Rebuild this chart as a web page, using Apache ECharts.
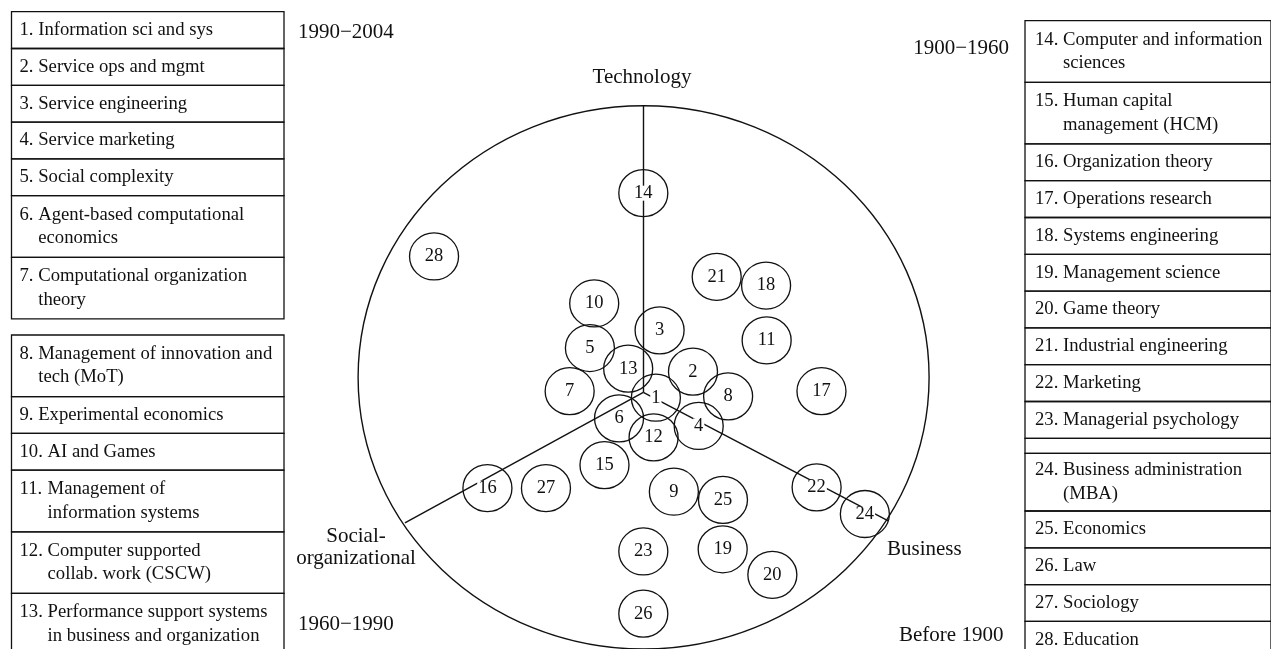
<!DOCTYPE html>
<html>
<head>
<meta charset="utf-8">
<script src="https://cdn.jsdelivr.net/npm/echarts@6/dist/echarts.min.js"></script>
<style>
html,body{margin:0;padding:0;background:#fff;}
#chart{width:1271px;height:649px;}
</style>
</head>
<body>
<div id="chart"></div>
<script>
// ---------------- DATA ----------------
// Topic numbers and their positions in the diagram (frame ellipse = radius 100)
const topicIds = [1,2,3,4,5,6,7,8,9,10,11,12,13,14,15,16,17,18,19,20,21,22,23,24,25,26,27,28];
const topicX   = [4.3,17.3,5.6,19.3,-18.8,-8.6,-25.9,29.6,10.6,-17.3,43.1,3.5,-5.4,-0.1,-13.7,-54.7,62.3,42.9,27.7,45.1,25.6,60.6,-0.1,77.5,27.8,-0.1,-34.2,-73.4];
const topicY   = [-7.5,2.1,17.3,-17.9,10.8,-15.1,-5.1,-7.0,-42.1,27.2,13.6,-22.1,3.2,67.8,-32.3,-40.8,-5.1,33.8,-63.3,-72.7,37.0,-40.5,-64.1,-50.3,-45.1,-87.0,-40.8,44.5];

// Three axes: hub and spoke end points (Technology, Social-organizational, Business)
const hubPoint   = [-0.1, -5.5];
const spokeEnds  = [[0, 100], [-83.6, -53.6], [85.7, -52.8]];
const frameRadius = 100;

// Axis and era labels
const axisNames = ["Technology", "Social-\norganizational", "Business"];
const eraNames  = ["1990\u22122004", "1900\u22121960", "1960\u22121990", "Before 1900"];

// Legend tables
const leftTableTop = [
  "1. Information sci and sys",
  "2. Service ops and mgmt",
  "3. Service engineering",
  "4. Service marketing",
  "5. Social complexity",
  "6. Agent-based computational\neconomics",
  "7. Computational organization\ntheory"
];
const leftTableBottom = [
  "8. Management of innovation and\ntech (MoT)",
  "9. Experimental economics",
  "10. AI and Games",
  "11. Management of\ninformation systems",
  "12. Computer supported\ncollab. work (CSCW)",
  "13. Performance support systems\nin business and organization"
];
const rightTable = [
  "14. Computer and information\nsciences",
  "15. Human capital\nmanagement (HCM)",
  "16. Organization theory",
  "17. Operations research",
  "18. Systems engineering",
  "19. Management science",
  "20. Game theory",
  "21. Industrial engineering",
  "22. Marketing",
  "23. Managerial psychology",
  "",
  "24. Business administration\n(MBA)",
  "25. Economics",
  "26. Law",
  "27. Sociology",
  "28. Education"
];

// ---------------- LAYOUT ----------------
const FONT = '"Liberation Serif","Times New Roman",Times,serif';
const TABLE_FS = 18.7;
const LABEL_FS = 21;
const INK = '#111';

function rowHeight(item, tableKey) {
  if (item === "") return 15;
  const lines = item.split("\n").length;
  if (lines === 1) return 36.8;
  if (tableKey === 'right' && item.startsWith("24.")) return 57.7;
  return 61.6;
}

function buildTable(items, x, y, w, textPad, tableKey) {
  const els = [];
  let cy = y;
  items.forEach(item => {
    const h = rowHeight(item, tableKey);
    els.push({
      type: 'rect', silent: true,
      shape: {x: x, y: cy, width: w, height: h},
      style: {fill: 'none', stroke: INK, lineWidth: 1.3}
    });
    if (item !== "") {
      const m = item.match(/^(\d+\.)\s([\s\S]*)$/);
      const num = m[1], body = m[2];
      const lines = body.split("\n");
      const indent = (num.length - 1) * TABLE_FS * 0.5 + TABLE_FS * 0.25 + TABLE_FS * 0.25;
      const lh = 23.3;
      const firstY = cy + h / 2 - (lines.length - 1) * lh / 2;
      els.push({
        type: 'text', silent: true,
        style: {text: num, x: x + textPad, y: firstY, fill: INK, font: TABLE_FS + 'px ' + FONT,
                textAlign: 'left', textVerticalAlign: 'middle'}
      });
      lines.forEach((ln, i) => {
        els.push({
          type: 'text', silent: true,
          style: {text: ln, x: x + textPad + indent, y: firstY + i * lh, fill: INK,
                  font: TABLE_FS + 'px ' + FONT, textAlign: 'left', textVerticalAlign: 'middle'}
        });
      });
    }
    cy += h;
  });
  return els;
}

function label(text, x, y, align, lineHeight) {
  return {
    type: 'text', silent: true,
    style: {text: text, x: x, y: y, fill: INK, font: LABEL_FS + 'px ' + FONT,
            textAlign: align, textVerticalAlign: 'middle', lineHeight: lineHeight || 23}
  };
}

const graphics = []
  .concat(buildTable(leftTableTop, 11.5, 11.7, 272.5, 8, 'left'))
  .concat(buildTable(leftTableBottom, 11.5, 335, 272.5, 8, 'left'))
  .concat(buildTable(rightTable, 1025, 20.7, 246, 10, 'right'))
  .concat([
    label(axisNames[0], 642, 77, 'center'),
    label(axisNames[1], 356, 547.5, 'center', 22.5),
    label(axisNames[2], 887, 549, 'left'),
    label(eraNames[0], 298, 32, 'left'),
    label(eraNames[1], 1009, 48, 'right'),
    label(eraNames[2], 298, 624, 'left'),
    label(eraNames[3], 899, 635, 'left')
  ]);

const chart = echarts.init(document.getElementById('chart'), null, {renderer: 'canvas'});

chart.setOption({
  animation: false,
  backgroundColor: '#fff',
  grid: {left: 358.1, top: 105.7, width: 571, height: 544.6},
  xAxis: {type: 'value', min: -100, max: 100, show: false},
  yAxis: {type: 'value', min: -100, max: 100, show: false},
  tooltip: {show: false},
  graphic: graphics,
  series: [
    {
      type: 'custom', coordinateSystem: 'cartesian2d', silent: true, z: 1,
      data: [[0, 0]],
      renderItem: function (params, api) {
        const c = api.coord([0, 0]);
        const px = api.coord([frameRadius, 0]);
        const py = api.coord([0, frameRadius]);
        return {
          type: 'ellipse',
          shape: {cx: c[0], cy: c[1], rx: px[0] - c[0], ry: c[1] - py[1]},
          style: {fill: 'none', stroke: INK, lineWidth: 1.4}
        };
      }
    },
    {
      type: 'lines', coordinateSystem: 'cartesian2d', silent: true, z: 2,
      lineStyle: {color: INK, width: 1.4, opacity: 1, curveness: 0},
      data: spokeEnds.map(e => ({coords: [hubPoint, e]}))
    },
    {
      type: 'scatter', silent: true, z: 3,
      symbol: 'circle',
      symbolSize: [49, 47],
      itemStyle: {color: 'rgba(0,0,0,0)', borderColor: INK, borderWidth: 1.3, opacity: 1},
      label: {
        show: true, position: 'inside', color: INK,
        fontFamily: FONT, fontSize: 18.5,
        backgroundColor: '#fff', padding: [0, 1], lineHeight: 15,
        formatter: p => String(p.value[2])
      },
      emphasis: {disabled: true},
      data: topicIds.map((id, i) => [topicX[i], topicY[i], id])
    }
  ]
});
</script>
</body>
</html>
